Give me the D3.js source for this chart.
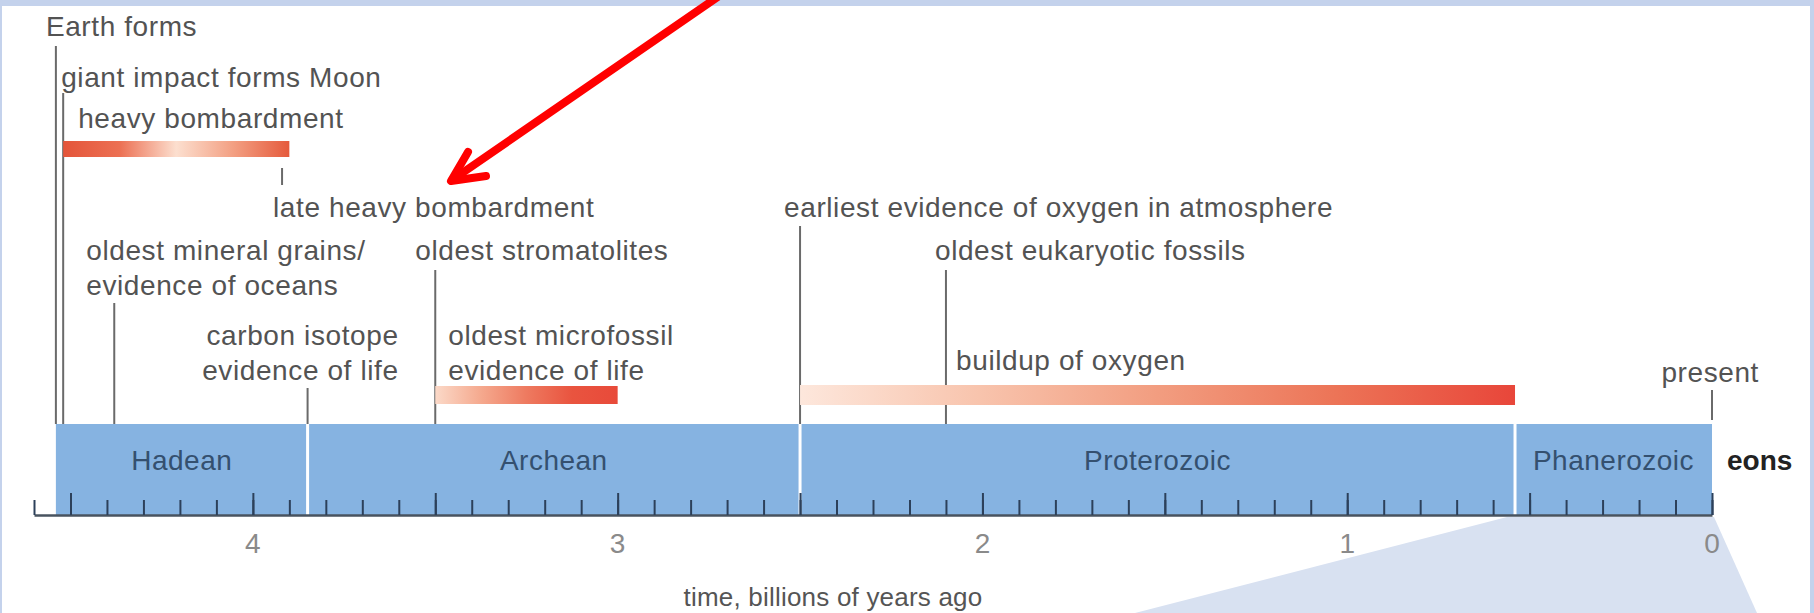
<!DOCTYPE html>
<html>
<head>
<meta charset="utf-8">
<script src="https://cdn.jsdelivr.net/npm/d3@7"></script>
<style>
  body { margin: 0; background: #c4d2ec; }
  svg { display: block; }
  text { font-family: "Liberation Sans", Arial, Helvetica, sans-serif; }
</style>
</head>
<body>
<svg id="drawing_region"></svg>
<script>
// eons
const eonNames  = ["Hadean", "Archean", "Proterozoic", "Phanerozoic"];
const eonStarts = [4.54, 3.85, 2.5, 0.54];
const eonEnds   = [3.85, 2.5, 0.54, 0];

// single events (billions of years ago)
const eventNames = ["Earth forms", "giant impact forms Moon", "late heavy bombardment",
  "oldest mineral grains/\nevidence of oceans", "carbon isotope\nevidence of life",
  "oldest stromatolites", "earliest evidence of oxygen in atmosphere",
  "oldest eukaryotic fossils", "present"];
const eventTimes = [4.54, 4.52, 3.92, 4.38, 3.85, 3.5, 2.5, 2.1, 0];

// spans drawn as gradient bars
const spanNames  = ["heavy bombardment", "oldest microfossil\nevidence of life", "buildup of oxygen"];
const spanStarts = [4.52, 3.5, 2.5];
const spanEnds   = [3.9, 3.0, 0.54];

// axis
const axisDomain = [4.6, 0];
const tickLabels = [4, 3, 2, 1, 0];

// layout of the labels (text baseline, text x offset, leader line top / bottom)
const eventLayout = [
  {ty: 36,  dx: -10, y1: 46,  y2: 424},
  {ty: 87,  dx: -2,  y1: 93,  y2: 424},
  {ty: 217, dx: -9,  y1: 168, y2: 185},
  {ty: 260, dx: -28, y1: 303, y2: 424},
  {ty: 345, dx: 91,  y1: 388, y2: 424, anchor: 'end'},
  {ty: 260, dx: -20, y1: 270, y2: 424},
  {ty: 217, dx: -16, y1: 226, y2: 424},
  {ty: 260, dx: -11, y1: 270, y2: 424},
  {ty: 382, dx: 47,  y1: 390, y2: 420, anchor: 'end'}
];
const spanLayout = [
  {ty: 128, dx: 15, y: 141, h: 16, stops: ["#e4553a", "#ec7053", "#fcdfcf", "#f3a083", "#e55a3c"]},
  {ty: 345, dx: 13, y: 386, h: 18, stops: ["#fbd9c8", "#f5a98e", "#ee7a60", "#e9543f", "#e84a3a"]},
  {ty: 370, dx: 156, y: 385, h: 20, stops: ["#fde7dc", "#f8c4ad", "#f29d80", "#ec7457", "#e8463a"]}
];

class Timeline {
  constructor(config) {
    this.config = config;
    this.init();
  }
  init() {
    let self = this;
    self.svg = d3.select(self.config.parent)
      .attr('width', self.config.width)
      .attr('height', self.config.height);
    self.xscale = d3.scaleLinear()
      .domain(axisDomain)
      .range([34, 1712]);
    self.defs = self.svg.append('defs');
  }
  text(g, str, x, y, opts) {
    const lines = str.split('\n');
    const t = g.append('text')
      .attr('x', x).attr('y', y)
      .attr('font-size', opts.size || 28)
      .attr('letter-spacing', opts.ls == null ? 0.6 : opts.ls)
      .attr('fill', opts.fill || '#535353')
      .attr('font-weight', opts.weight || 'normal')
      .attr('text-anchor', opts.anchor || 'start');
    lines.forEach((l, i) => {
      t.append('tspan').attr('x', x).attr('dy', i == 0 ? 0 : (opts.lh || 35)).text(l);
    });
    return t;
  }
  render() {
    let self = this;
    const x = self.xscale;
    const svg = self.svg;

    // white page inside the blue frame
    svg.append('rect').attr('x', 2).attr('y', 6).attr('width', 1808).attr('height', 613).attr('fill', '#ffffff');

    // zoom wedge below the Phanerozoic
    svg.append('path')
      .attr('d', `M${x(eonStarts[3]) - 8},517 L${x(0) + 2},517 L${x(0) + 45},613 L${x(eonStarts[3]) - 380},613 Z`)
      .attr('fill', '#d8e1f1');

    // eon band
    const band = svg.append('g');
    band.selectAll('rect')
      .data(eonNames)
      .join('rect')
      .attr('x', (d, i) => x(eonStarts[i]))
      .attr('width', (d, i) => x(eonEnds[i]) - x(eonStarts[i]))
      .attr('y', 424).attr('height', 91)
      .attr('fill', '#86b3e1');
    band.selectAll('line')
      .data(eonStarts.slice(1))
      .join('line')
      .attr('x1', d => x(d)).attr('x2', d => x(d))
      .attr('y1', 424).attr('y2', 516)
      .attr('stroke', '#ffffff').attr('stroke-width', 3);
    eonNames.forEach((n, i) => {
      self.text(band, n, (x(eonStarts[i]) + x(eonEnds[i])) / 2, 470, {anchor: 'middle', fill: '#34506f', size: 28, ls: 0.5});
    });
    self.text(svg, 'eons', 1727, 470, {weight: 'bold', fill: '#222222', size: 28, ls: 0});

    // ticks
    const minor = d3.axisBottom(x).tickValues(x.ticks(46)).tickSize(-15).tickSizeOuter(0).tickFormat('');
    const major = d3.axisBottom(x).tickValues(x.ticks(9).filter(d => Math.abs(d * 2 - Math.round(d * 2)) < 1e-9)).tickSize(-22).tickSizeOuter(0).tickFormat('');
    const ga = svg.append('g').attr('transform', 'translate(0,515)').call(minor);
    const gb = svg.append('g').attr('transform', 'translate(0,515)').call(major);
    [ga, gb].forEach(g => {
      g.selectAll('.tick line').attr('stroke', '#2c405a').attr('stroke-width', 2);
    });
    gb.select('.domain').remove();
    ga.select('.domain').attr('stroke', '#48535f').attr('stroke-width', 2.5);
    tickLabels.forEach(v => {
      self.text(svg, String(v), x(v), 553, {anchor: 'middle', fill: '#8a8a8a', size: 28, ls: 0});
    });
    self.text(svg, 'time, billions of years ago', 833, 606, {anchor: 'middle', fill: '#555555', size: 26, ls: 0.2});

    // single events
    const ev = svg.append('g');
    eventNames.forEach((n, i) => {
      const L = eventLayout[i];
      const xx = x(eventTimes[i]);
      ev.append('line')
        .attr('x1', xx).attr('x2', xx).attr('y1', L.y1).attr('y2', L.y2)
        .attr('stroke', '#6a6a6a').attr('stroke-width', 2);
      self.text(ev, n, xx + L.dx, L.ty, {anchor: L.anchor});
    });

    // spans
    spanNames.forEach((n, i) => {
      const L = spanLayout[i];
      const id = 'grad' + i;
      const gr = self.defs.append('linearGradient').attr('id', id);
      L.stops.forEach((c, k) => {
        gr.append('stop').attr('offset', k / (L.stops.length - 1)).attr('stop-color', c);
      });
      svg.append('rect')
        .attr('x', x(spanStarts[i])).attr('width', x(spanEnds[i]) - x(spanStarts[i]))
        .attr('y', L.y).attr('height', L.h)
        .attr('fill', `url(#${id})`);
      self.text(svg, n, x(spanStarts[i]) + L.dx, L.ty, {});
    });

    // red arrow pointing at the late heavy bombardment label
    const arrow = svg.append('g')
      .attr('stroke', '#ff0000').attr('stroke-width', 8)
      .attr('stroke-linecap', 'round').attr('fill', 'none');
    arrow.append('line').attr('x1', 722).attr('y1', -6).attr('x2', 452).attr('y2', 180);
    arrow.append('polyline').attr('points', '468,152 451,181 486,176').attr('stroke-linejoin', 'round');
  }
}

const chart = new Timeline({parent: '#drawing_region', width: 1814, height: 613});
chart.render();
</script>
</body>
</html>
